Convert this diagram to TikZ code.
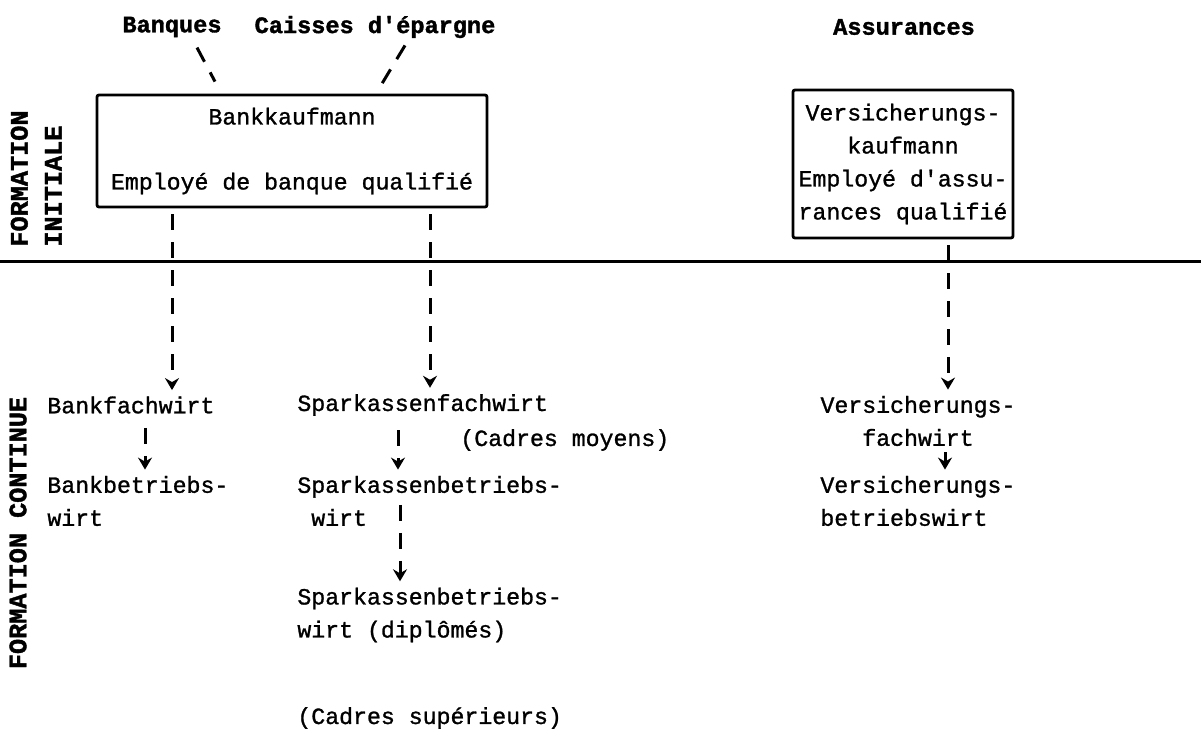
\documentclass[tikz,border=0pt]{standalone}
\usepackage{fontspec}
\setmonofont[FakeBold=1.2]{Liberation Mono}
\newfontfamily\headfont[FakeBold=1.5]{Liberation Mono Bold}
\usetikzlibrary{arrows.meta, positioning, calc}

\begin{document}
\begin{tikzpicture}[x=0.5pt, y=-0.5pt,
  every node/.style={font=\ttfamily\fontsize{11.6}{16.5}\selectfont, inner sep=0pt},
  head/.style={font=\headfont\fontsize{11.8}{16.5}\selectfont},
  side/.style={font=\headfont\fontsize{12.6}{17}\selectfont, rotate=90, align=left},
  box/.style={draw, line width=1.4pt, align=center, rounded corners=1pt},
  lbl/.style={align=left, anchor=west},
  lnk/.style={line width=1.5pt, dash pattern=on 8pt off 6pt},
  arr/.style={lnk, -{Stealth[length=6pt, width=7pt, inset=2pt]}}]
\useasboundingbox (0,0) rectangle (1201,747);
% branches
\node[head] (ban) at (172,27) {Banques};
\node[head] (cai) at (375,27) {Caisses d'épargne};
\node[head] (ass) at (904,27) {Assurances};
% initial training
\node[box, minimum width=195pt, minimum height=56pt] (box1) at (292,151)
  {Bankkaufmann\\[16pt]Employé de banque qualifié};
\node[box, minimum width=110pt, minimum height=74pt] (box2) at (903,164)
  {Versicherungs-\\kaufmann\\Employé d'assu-\\rances qualifié};
\node[side, anchor=south west] (fi) at (62,247) {FORMATION\\INITIALE};
\node[side] (fc) at (18,533) {FORMATION CONTINUE};
\draw[line width=1.5pt] (0,262) -- (1201,262);
% continuing training
\node[lbl] (bfw) at (47,405) {Bankfachwirt};
\node[lbl] (sfw) at (297,405) {Sparkassenfachwirt};
\node[align=center] (vfw) at (918,421) {Versicherungs-\\fachwirt};
\node[lbl] (mid) at (460,440) {(Cadres moyens)};
\node[lbl] (bbw) at (47,501) {Bankbetriebs-\\wirt};
\node[lbl] (sbw) at (297,501) {Sparkassenbetriebs-\\\hspace*{0.6em}wirt};
\node[lbl] (vbw) at (820,501) {Versicherungs-\\betriebswirt};
\node[lbl] (sdw) at (297,615) {Sparkassenbetriebs-\\wirt (diplômés)};
\node[lbl] (sup) at (297,718) {(Cadres supérieurs)};
% links
\draw[lnk] ($(ban.south)+(25,10)$) -- ($(box1.north)+(-77,-12)$);
\draw[lnk] ($(cai.south)+(30,7)$) -- ($(box1.north)+(90,-10)$);
\draw[arr, shorten <=3pt, shorten >=3pt] (box1.south -| 172,0) -- (bfw.north -| 172,0);
\draw[arr, shorten <=3pt, shorten >=3pt] (box1.south -| 430,0) -- (sfw.north -| 430,0);
\draw[arr, shorten <=3pt, shorten >=3pt] (box2.south -| 948,0) -- (vfw.north -| 948,0);
\draw[arr, shorten <=7pt, shorten >=3pt] (bfw.south -| 145,0) -- (bbw.north -| 145,0);
\draw[arr, shorten <=7pt, shorten >=3pt] (sfw.south -| 398,0) -- (sbw.north -| 398,0);
\draw[arr, shorten <=2pt, shorten >=3pt] (sbw.center -| 400,0) -- (sdw.north -| 400,0);
\draw[arr, shorten <=3pt, shorten >=3pt] (vfw.south -| 945,0) -- (vbw.north -| 945,0);
\end{tikzpicture}
\end{document}
